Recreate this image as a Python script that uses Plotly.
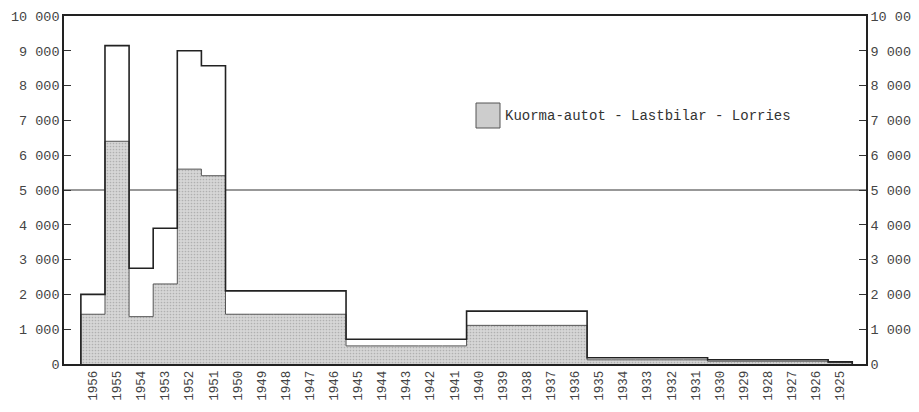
import plotly.graph_objects as go

years = list(range(1956, 1924, -1))
totals = [2000, 9150, 2750, 3900, 9000, 8570,
          2100, 2100, 2100, 2100, 2100,
          710, 710, 710, 710, 710,
          1520, 1520, 1520, 1520, 1520,
          180, 180, 180, 180, 180,
          120, 120, 120, 120, 120,
          60]
lorries = [1430, 6400, 1360, 2300, 5600, 5410,
           1430, 1430, 1430, 1430, 1430,
           520, 520, 520, 520, 520,
           1110, 1110, 1110, 1110, 1110,
           120, 120, 120, 120, 120,
           80, 80, 80, 80, 80,
           40]
ytick_vals = list(range(0, 10001, 1000))
ytick_text = ["0"] + [f"{v // 1000} 000" for v in ytick_vals[1:]]
legend_text = "Kuorma-autot - Lastbilar - Lorries"


def step(vals):
    xs = [years[0] + 0.5] + [y + 0.5 for y in years] + [years[-1] - 0.5, years[-1] - 0.5]
    ys = [0] + list(vals) + [vals[-1], 0]
    return xs, ys


mono = "Liberation Mono, DejaVu Sans Mono, monospace"
fig = go.Figure()

lx, ly = step(lorries)
fig.add_trace(go.Scatter(
    x=lx, y=ly, mode="lines", line=dict(shape="hv", color="#555555", width=1),
    fill="tozeroy", fillcolor="#cdcdcd",
    fillpattern=dict(shape=".", fgcolor="#8a8a8a", bgcolor="#d6d6d6", size=3, solidity=0.25),
    showlegend=False, hoverinfo="skip"))

tx, ty = step(totals)
fig.add_trace(go.Scatter(
    x=tx, y=ty, mode="lines", line=dict(shape="hv", color="#222222", width=1.6),
    showlegend=False, hoverinfo="skip"))

fig.add_trace(go.Scatter(x=[years[0]], y=[0], yaxis="y2", mode="markers",
                         marker=dict(opacity=0), showlegend=False, hoverinfo="skip"))

fig.add_shape(type="line", xref="paper", x0=0, x1=1, yref="y", y0=5000, y1=5000,
              line=dict(color="#333333", width=1.2), layer="below")

fig.add_shape(type="rect", xref="paper", yref="paper",
              x0=(476 - 64) / 802, x1=(500 - 64) / 802,
              y0=(364 - 128) / 348, y1=(364 - 103) / 348,
              line=dict(color="#555555", width=1), fillcolor="#cdcdcd")
fig.add_annotation(text=legend_text, xref="paper", yref="paper",
                   x=(503 - 64) / 802, y=(364 - 115.5) / 348,
                   xanchor="left", yanchor="middle", showarrow=False,
                   font=dict(family=mono, size=14, color="#333333"))

axis_common = dict(range=[0, 10000], tickvals=ytick_vals, ticktext=ytick_text,
                   ticks="inside", ticklen=7, tickwidth=1.2, tickcolor="#333333",
                   showgrid=False, zeroline=False, showline=True, linecolor="#222222",
                   linewidth=1.6, automargin=False,
                   tickfont=dict(family=mono, size=13.5, color="#444444"))

fig.update_layout(
    width=911, height=404,
    margin=dict(l=56, r=53, t=8, b=48),
    paper_bgcolor="white", plot_bgcolor="white",
    xaxis=dict(range=[1957.2, 1923.93], tickvals=years, ticktext=[str(y) for y in years],
               tickangle=-90, ticks="", showgrid=False, zeroline=False,
               showline=True, linecolor="#222222", linewidth=1.6, mirror=True,
               automargin=False,
               tickfont=dict(family=mono, size=12.5, color="#444444")),
    yaxis=dict(side="left", **axis_common),
    yaxis2=dict(side="right", overlaying="y", **axis_common),
)

fig.write_html("out.html")
